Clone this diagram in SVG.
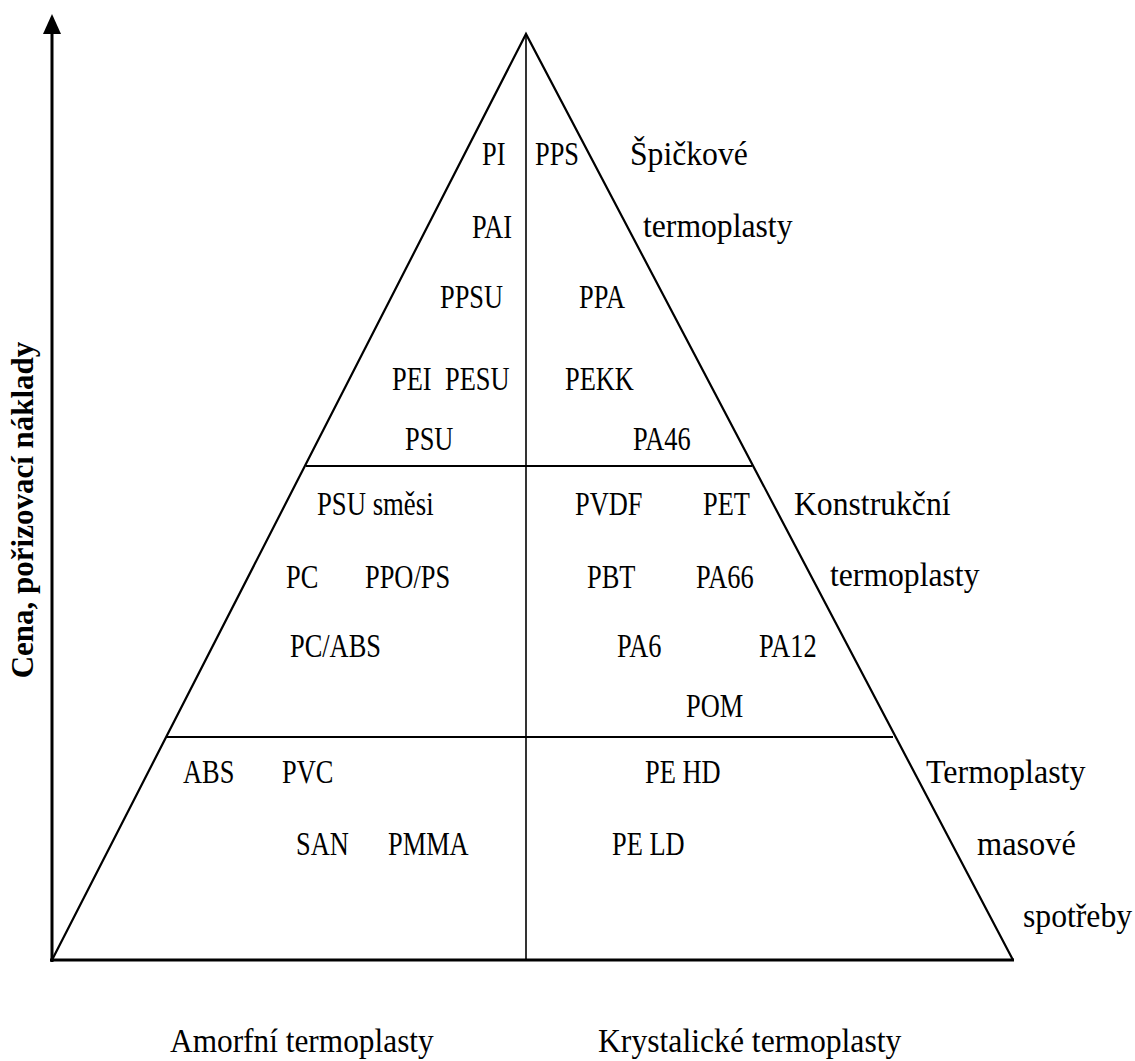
<svg xmlns="http://www.w3.org/2000/svg" width="1135" height="1061" viewBox="0 0 1135 1061">
<style>
  .edge { stroke: #000; stroke-width: 2.2; fill: none; }
  .thin { stroke: #000; stroke-width: 1.6; fill: none; }
  .axis { stroke: #000; stroke-width: 3; fill: none; }
</style>
<rect width="1135" height="1061" fill="#fff"/>
<g id="connectors">
  <line class="axis" x1="52" y1="962" x2="52" y2="32"/>
  <polygon points="52,14 43,34 61,34" fill="#000"/>
  <line class="axis" x1="50" y1="960" x2="1014" y2="960"/>
  <polyline class="edge" points="52,960 526,34 1013,960"/>
  <line class="thin" x1="526" y1="34" x2="526" y2="960"/>
  <line class="edge" x1="306" y1="466" x2="752" y2="466"/>
  <line class="edge" x1="166" y1="737" x2="893" y2="737"/>
</g>
<g id="axis-label">
  <text font-family="Liberation Serif" font-size="31" font-weight="bold" transform="translate(33,510) rotate(-90)" text-anchor="middle">Cena, pořizovací náklady</text>
</g>
<g id="top-tier">
  <text font-family="Liberation Serif" font-size="33" transform="translate(482,165) scale(0.8,1)">PI</text>
  <text font-family="Liberation Serif" font-size="33" transform="translate(535,165) scale(0.8,1)">PPS</text>
  <text font-family="Liberation Serif" font-size="33" transform="translate(472,238) scale(0.8,1)">PAI</text>
  <text font-family="Liberation Serif" font-size="33" transform="translate(440,308) scale(0.8,1)">PPSU</text>
  <text font-family="Liberation Serif" font-size="33" transform="translate(579,308) scale(0.8,1)">PPA</text>
  <text font-family="Liberation Serif" font-size="33" transform="translate(392,390) scale(0.8,1)">PEI</text>
  <text font-family="Liberation Serif" font-size="33" transform="translate(445,390) scale(0.8,1)">PESU</text>
  <text font-family="Liberation Serif" font-size="33" transform="translate(565,390) scale(0.8,1)">PEKK</text>
  <text font-family="Liberation Serif" font-size="33" transform="translate(405,450) scale(0.8,1)">PSU</text>
  <text font-family="Liberation Serif" font-size="33" transform="translate(633,450) scale(0.8,1)">PA46</text>
</g>
<g id="top-label">
  <text font-family="Liberation Serif" font-size="33" transform="translate(630,165) scale(0.96,1)">Špičkové</text>
  <text font-family="Liberation Serif" font-size="33" transform="translate(643,237) scale(0.96,1)">termoplasty</text>
</g>
<g id="middle-tier">
  <text font-family="Liberation Serif" font-size="33" transform="translate(317,515) scale(0.81,1)">PSU směsi</text>
  <text font-family="Liberation Serif" font-size="33" transform="translate(575,515) scale(0.8,1)">PVDF</text>
  <text font-family="Liberation Serif" font-size="33" transform="translate(703,515) scale(0.8,1)">PET</text>
  <text font-family="Liberation Serif" font-size="33" transform="translate(286,588) scale(0.8,1)">PC</text>
  <text font-family="Liberation Serif" font-size="33" transform="translate(365,588) scale(0.8,1)">PPO/PS</text>
  <text font-family="Liberation Serif" font-size="33" transform="translate(587,588) scale(0.8,1)">PBT</text>
  <text font-family="Liberation Serif" font-size="33" transform="translate(696,588) scale(0.8,1)">PA66</text>
  <text font-family="Liberation Serif" font-size="33" transform="translate(290,657) scale(0.8,1)">PC/ABS</text>
  <text font-family="Liberation Serif" font-size="33" transform="translate(617,657) scale(0.8,1)">PA6</text>
  <text font-family="Liberation Serif" font-size="33" transform="translate(759,657) scale(0.8,1)">PA12</text>
  <text font-family="Liberation Serif" font-size="33" transform="translate(686,717) scale(0.8,1)">POM</text>
</g>
<g id="middle-label">
  <text font-family="Liberation Serif" font-size="33" transform="translate(794,515) scale(0.96,1)">Konstrukční</text>
  <text font-family="Liberation Serif" font-size="33" transform="translate(830,586) scale(0.96,1)">termoplasty</text>
</g>
<g id="bottom-tier">
  <text font-family="Liberation Serif" font-size="33" transform="translate(183,783) scale(0.8,1)">ABS</text>
  <text font-family="Liberation Serif" font-size="33" transform="translate(282,783) scale(0.8,1)">PVC</text>
  <text font-family="Liberation Serif" font-size="33" transform="translate(645,783) scale(0.8,1)">PE HD</text>
  <text font-family="Liberation Serif" font-size="33" transform="translate(296,855) scale(0.8,1)">SAN</text>
  <text font-family="Liberation Serif" font-size="33" transform="translate(388,855) scale(0.8,1)">PMMA</text>
  <text font-family="Liberation Serif" font-size="33" transform="translate(612,855) scale(0.8,1)">PE LD</text>
</g>
<g id="bottom-label">
  <text font-family="Liberation Serif" font-size="33" transform="translate(926,783) scale(0.97,1)">Termoplasty</text>
  <text font-family="Liberation Serif" font-size="33" transform="translate(977,855) scale(0.98,1)">masové</text>
  <text font-family="Liberation Serif" font-size="33" transform="translate(1023,927) scale(0.96,1)">spotřeby</text>
</g>
<g id="amorphous">
  <text font-family="Liberation Serif" font-size="33" transform="translate(170,1052) scale(0.95,1)">Amorfní termoplasty</text>
</g>
<g id="crystalline">
  <text font-family="Liberation Serif" font-size="33" transform="translate(598,1052) scale(0.96,1)">Krystalické termoplasty</text>
</g>
</svg>
